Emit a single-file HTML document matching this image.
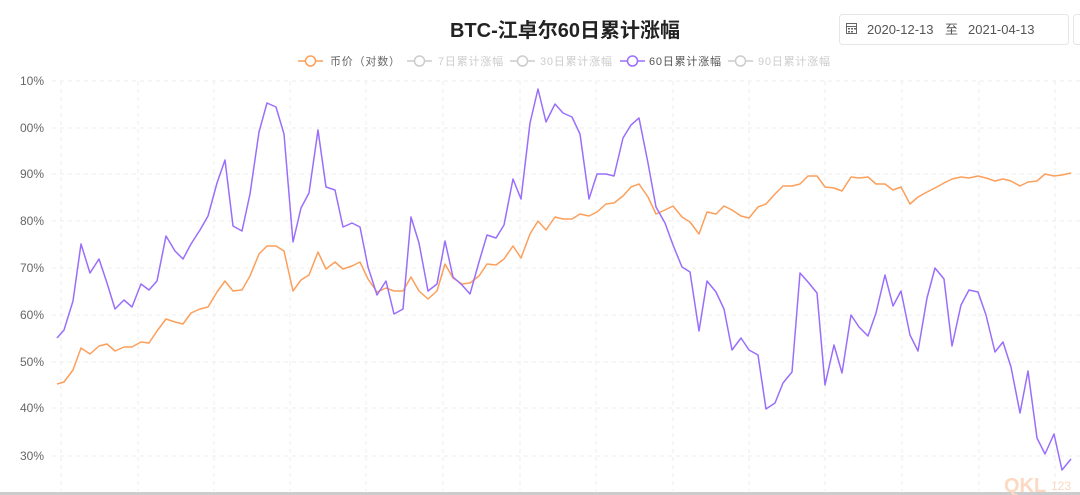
<!DOCTYPE html>
<html><head><meta charset="utf-8"><style>
html,body{margin:0;padding:0;background:#fff;width:1080px;height:495px;overflow:hidden}
svg{display:block;font-family:"Liberation Sans","Noto Sans CJK SC",sans-serif}
</style></head><body>
<svg width="1080" height="495" viewBox="0 0 1080 495">
<rect width="1080" height="495" fill="#fff"/>
<text x="565" y="37" text-anchor="middle" font-size="20" font-weight="bold" fill="#222">BTC-江卓尔60日累计涨幅</text>
<rect x="839.5" y="14.5" width="229" height="30" rx="3" fill="#fff" stroke="#e6e6e6"/>
<rect x="1073.5" y="14.5" width="20" height="30" rx="3" fill="#fff" stroke="#e6e6e6"/>
<g stroke="#666" fill="none" stroke-width="1"><rect x="846.5" y="23.5" width="10" height="10"/><line x1="846" y1="26.5" x2="857" y2="26.5"/></g>
<g fill="#666"><rect x="848" y="28" width="2" height="1.5"/><rect x="851" y="28" width="2" height="1.5"/><rect x="854" y="28" width="2" height="1.5"/><rect x="848" y="31" width="2" height="1.5"/><rect x="851" y="31" width="2" height="1.5"/></g>
<g font-size="13" fill="#555"><text x="867" y="34">2020-12-13</text><text x="945" y="34">至</text><text x="968" y="34">2021-04-13</text></g>
<g font-size="11" letter-spacing="0.8">
<line x1="298" y1="61" x2="323" y2="61" stroke="#fc9f5b" stroke-width="1.5"/><circle cx="310.5" cy="61" r="5" fill="#fff" stroke="#fc9f5b" stroke-width="1.5"/><text x="330" y="65" fill="#666">币价（对数）</text>
<line x1="407" y1="61" x2="432" y2="61" stroke="#ccc" stroke-width="1.5"/><circle cx="419.5" cy="61" r="5" fill="#fff" stroke="#ccc" stroke-width="1.5"/><text x="438" y="65" fill="#ccc">7日累计涨幅</text>
<line x1="510" y1="61" x2="535" y2="61" stroke="#ccc" stroke-width="1.5"/><circle cx="522.5" cy="61" r="5" fill="#fff" stroke="#ccc" stroke-width="1.5"/><text x="540" y="65" fill="#ccc">30日累计涨幅</text>
<line x1="620" y1="61" x2="645" y2="61" stroke="#9a6efc" stroke-width="1.5"/><circle cx="632.5" cy="61" r="5" fill="#fff" stroke="#9a6efc" stroke-width="1.5"/><text x="649" y="65" fill="#555">60日累计涨幅</text>
<line x1="728" y1="61" x2="753" y2="61" stroke="#ccc" stroke-width="1.5"/><circle cx="740.5" cy="61" r="5" fill="#fff" stroke="#ccc" stroke-width="1.5"/><text x="758" y="65" fill="#ccc">90日累计涨幅</text>
</g>
<g stroke="#ededed" stroke-dasharray="4,4" stroke-width="1">
<line x1="52" y1="81" x2="1080" y2="81"/><line x1="52" y1="128" x2="1080" y2="128"/><line x1="52" y1="174" x2="1080" y2="174"/><line x1="52" y1="221" x2="1080" y2="221"/><line x1="52" y1="268" x2="1080" y2="268"/><line x1="52" y1="315" x2="1080" y2="315"/><line x1="52" y1="362" x2="1080" y2="362"/><line x1="52" y1="408" x2="1080" y2="408"/><line x1="52" y1="456" x2="1080" y2="456"/>
<line x1="61" y1="81" x2="61" y2="491"/><line x1="138" y1="81" x2="138" y2="491"/><line x1="214" y1="81" x2="214" y2="491"/><line x1="290" y1="81" x2="290" y2="491"/><line x1="366" y1="81" x2="366" y2="491"/><line x1="443" y1="81" x2="443" y2="491"/><line x1="520" y1="81" x2="520" y2="491"/><line x1="596" y1="81" x2="596" y2="491"/><line x1="673" y1="81" x2="673" y2="491"/><line x1="749" y1="81" x2="749" y2="491"/><line x1="825" y1="81" x2="825" y2="491"/><line x1="902" y1="81" x2="902" y2="491"/><line x1="979" y1="81" x2="979" y2="491"/><line x1="1055" y1="81" x2="1055" y2="491"/>
</g>
<g font-size="12" fill="#666" text-anchor="end">
<text x="44" y="85">10%</text><text x="44" y="132">00%</text><text x="44" y="178">90%</text><text x="44" y="225">80%</text><text x="44" y="272">70%</text><text x="44" y="319">60%</text><text x="44" y="366">50%</text><text x="44" y="412">40%</text><text x="44" y="460">30%</text>
</g>
<rect x="0" y="492" width="1080" height="3" fill="#ccc"/>
<g font-size="20" font-weight="bold" fill="#fbd9c2"><text x="1004" y="492">QKL</text></g><text x="1051" y="490" font-size="12" fill="#fbd9c2">123</text>
<polyline fill="none" stroke="#fc9f5b" stroke-width="1.5" stroke-linejoin="round" points="57,384 64,382 73,370 81,348 90,354 99,346 107,344 115,351 124,347 132,347 141,342 149,343 157,331 166,319 175,322 183,324 191,313 200,309 208,307 217,292 225,281 233,291 242,290 250,276 259,254 267,246 276,246 284,251 293,291 301,280 309,275 318,252 326,269 335,262 343,269 352,266 360,262 368,279 377,292 386,288 394,291 403,291 411,277 419,291 428,299 437,291 445,264 453,278 462,284 470,283 479,276 487,264 496,265 504,259 513,246 521,258 530,234 538,221 546,230 555,217 563,219 572,219 580,214 589,216 597,212 606,204 614,203 623,196 631,187 639,184 648,197 656,214 665,210 673,206 682,217 690,222 699,234 707,212 716,214 724,206 732,210 741,216 749,218 758,207 766,204 775,194 783,186 792,186 800,184 808,176 817,176 825,187 834,188 842,191 851,177 859,178 868,177 876,184 885,184 893,190 901,187 910,204 918,197 927,192 935,188 944,183 952,179 961,177 969,178 978,176 986,178 995,181 1003,179 1011,181 1020,186 1028,182 1037,181 1045,174 1054,176 1062,175 1071,173"/>
<polyline fill="none" stroke="#9a6efc" stroke-width="1.5" stroke-linejoin="round" points="57,338 64,330 73,301 81,244 90,273 99,259 107,283 115,309 124,300 132,307 141,284 149,290 157,281 166,236 175,251 183,259 191,244 200,230 208,216 217,183 225,160 233,226 242,231 250,194 259,132 267,103 276,107 284,134 293,242 301,208 309,193 318,130 326,187 335,190 343,227 352,223 360,227 368,267 377,295 386,281 394,314 403,309 411,217 419,243 428,291 437,284 445,241 453,277 462,285 470,294 479,262 487,235 496,238 504,225 513,179 521,199 530,123 538,89 546,122 555,104 563,113 572,117 580,134 589,199 597,174 606,174 614,176 623,138 631,125 639,118 648,163 656,207 665,223 673,245 682,267 690,272 699,331 707,281 716,292 724,309 732,350 741,338 749,350 758,355 766,409 775,403 783,383 792,372 800,273 808,282 817,293 825,385 834,345 842,373 851,315 859,327 868,336 876,313 885,275 893,306 901,291 910,335 918,351 927,298 935,268 944,279 952,346 961,305 969,290 978,292 986,315 995,352 1003,342 1011,367 1020,413 1028,371 1037,438 1045,454 1054,434 1062,470 1071,459"/>
</svg>
</body></html>
